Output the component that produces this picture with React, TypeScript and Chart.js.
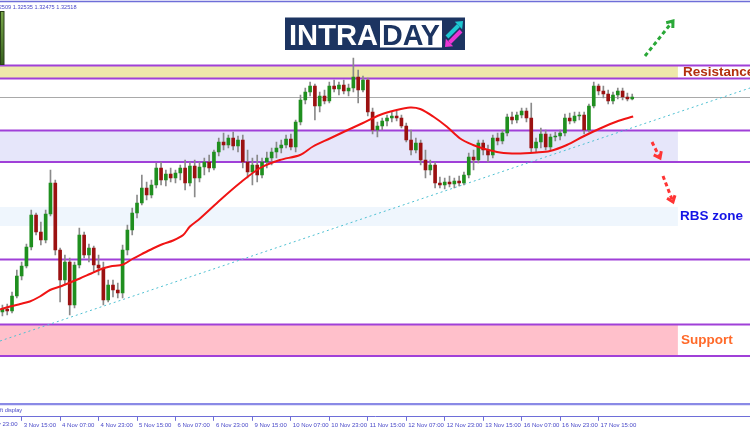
import React, { useEffect, useRef } from "react";
import { Chart, registerables } from "chart.js";

Chart.register(...registerables);

// ---- Candle data (2-hour candles, GBPUSD) ----
const OPEN = [
  1.2822, 1.2828, 1.2824, 1.2854, 1.2894, 1.2914, 1.2952, 1.3016, 1.2982, 1.2966,
  1.3018, 1.3080, 1.2946, 1.2886, 1.2922, 1.2836, 1.2916, 1.2976, 1.2936, 1.2950,
  1.2916, 1.2910, 1.2846, 1.2876, 1.2866, 1.2860, 1.2946, 1.2986, 1.3020, 1.3040,
  1.3070, 1.3056, 1.3076, 1.3110, 1.3086, 1.3098, 1.3090, 1.3100, 1.3110, 1.3080,
  1.3114, 1.3090, 1.3112, 1.3122, 1.3110, 1.3142, 1.3162, 1.3156, 1.3170, 1.3154,
  1.3166, 1.3122, 1.3102, 1.3116, 1.3096, 1.3122, 1.3130, 1.3142, 1.3150, 1.3156,
  1.3168, 1.3152, 1.3202, 1.3246, 1.3262, 1.3274, 1.3234, 1.3254, 1.3244, 1.3274,
  1.3268, 1.3276, 1.3264, 1.3270, 1.3292, 1.3266, 1.3286, 1.3222, 1.3186, 1.3194,
  1.3204, 1.3210, 1.3214, 1.3210, 1.3194, 1.3166, 1.3146, 1.3160, 1.3126, 1.3106,
  1.3116, 1.3080, 1.3076, 1.3082, 1.3078, 1.3084, 1.3080, 1.3096, 1.3132, 1.3126,
  1.3160, 1.3146, 1.3136, 1.3170, 1.3164, 1.3180, 1.3212, 1.3206, 1.3216, 1.3224,
  1.3210, 1.3150, 1.3162, 1.3178, 1.3152, 1.3172, 1.3174, 1.3180, 1.3210, 1.3204,
  1.3214, 1.3216, 1.3186, 1.3234, 1.3274, 1.3264, 1.3258, 1.3244, 1.3256, 1.3264,
  1.3252, 1.3248,
];
const HIGH = [
  1.2836, 1.2838, 1.2862, 1.2906, 1.2922, 1.2958, 1.3026, 1.3020, 1.3002, 1.3026,
  1.3106, 1.3086, 1.2950, 1.2936, 1.2930, 1.2922, 1.2990, 1.2982, 1.2958, 1.2954,
  1.2936, 1.2922, 1.2886, 1.2886, 1.2880, 1.2956, 1.2996, 1.3030, 1.3056, 1.3096,
  1.3082, 1.3086, 1.3120, 1.3122, 1.3106, 1.3110, 1.3106, 1.3116, 1.3126, 1.3122,
  1.3126, 1.3122, 1.3130, 1.3136, 1.3146, 1.3170, 1.3180, 1.3176, 1.3182, 1.3174,
  1.3176, 1.3146, 1.3130, 1.3136, 1.3130, 1.3142, 1.3150, 1.3162, 1.3166, 1.3176,
  1.3178, 1.3206, 1.3256, 1.3270, 1.3282, 1.3278, 1.3262, 1.3266, 1.3282, 1.3286,
  1.3282, 1.3286, 1.3278, 1.3330, 1.3306, 1.3294, 1.3290, 1.3230, 1.3202, 1.3210,
  1.3216, 1.3222, 1.3224, 1.3216, 1.3200, 1.3186, 1.3170, 1.3166, 1.3146, 1.3126,
  1.3122, 1.3092, 1.3090, 1.3094, 1.3090, 1.3094, 1.3102, 1.3140, 1.3146, 1.3166,
  1.3166, 1.3156, 1.3176, 1.3180, 1.3186, 1.3218, 1.3222, 1.3222, 1.3230, 1.3230,
  1.3240, 1.3170, 1.3190, 1.3186, 1.3178, 1.3182, 1.3186, 1.3218, 1.3220, 1.3222,
  1.3222, 1.3222, 1.3238, 1.3282, 1.3278, 1.3274, 1.3266, 1.3262, 1.3270, 1.3270,
  1.3260, 1.3258,
];
const LOW = [
  1.2814, 1.2816, 1.2820, 1.2850, 1.2886, 1.2910, 1.2946, 1.2976, 1.2956, 1.2960,
  1.3014, 1.2936, 1.2842, 1.2876, 1.2816, 1.2830, 1.2910, 1.2930, 1.2922, 1.2902,
  1.2896, 1.2836, 1.2842, 1.2852, 1.2850, 1.2850, 1.2936, 1.2976, 1.3010, 1.3036,
  1.3046, 1.3050, 1.3070, 1.3076, 1.3074, 1.3082, 1.3080, 1.3086, 1.3066, 1.3074,
  1.3052, 1.3082, 1.3096, 1.3102, 1.3106, 1.3134, 1.3146, 1.3150, 1.3146, 1.3142,
  1.3110, 1.3090, 1.3076, 1.3082, 1.3090, 1.3110, 1.3116, 1.3130, 1.3140, 1.3150,
  1.3146, 1.3142, 1.3196, 1.3238, 1.3254, 1.3206, 1.3222, 1.3238, 1.3240, 1.3262,
  1.3256, 1.3258, 1.3254, 1.3262, 1.3240, 1.3262, 1.3214, 1.3178, 1.3172, 1.3186,
  1.3194, 1.3202, 1.3204, 1.3190, 1.3162, 1.3136, 1.3140, 1.3116, 1.3090, 1.3096,
  1.3070, 1.3070, 1.3068, 1.3072, 1.3070, 1.3074, 1.3076, 1.3090, 1.3106, 1.3120,
  1.3136, 1.3122, 1.3130, 1.3156, 1.3158, 1.3174, 1.3198, 1.3200, 1.3210, 1.3202,
  1.3142, 1.3142, 1.3150, 1.3146, 1.3146, 1.3164, 1.3166, 1.3174, 1.3198, 1.3200,
  1.3206, 1.3178, 1.3182, 1.3230, 1.3256, 1.3250, 1.3238, 1.3238, 1.3248, 1.3246,
  1.3244, 1.3246,
];
const CLOSE = [
  1.2828, 1.2824, 1.2854, 1.2894, 1.2914, 1.2952, 1.3016, 1.2982, 1.2966, 1.3018,
  1.3080, 1.2946, 1.2886, 1.2922, 1.2836, 1.2916, 1.2976, 1.2936, 1.2950, 1.2916,
  1.2910, 1.2846, 1.2876, 1.2866, 1.2860, 1.2946, 1.2986, 1.3020, 1.3040, 1.3070,
  1.3056, 1.3076, 1.3110, 1.3086, 1.3098, 1.3090, 1.3100, 1.3110, 1.3080, 1.3114,
  1.3090, 1.3112, 1.3122, 1.3110, 1.3142, 1.3162, 1.3156, 1.3170, 1.3154, 1.3166,
  1.3122, 1.3102, 1.3116, 1.3096, 1.3122, 1.3130, 1.3142, 1.3150, 1.3156, 1.3168,
  1.3152, 1.3202, 1.3246, 1.3262, 1.3274, 1.3234, 1.3254, 1.3244, 1.3274, 1.3268,
  1.3276, 1.3264, 1.3270, 1.3292, 1.3266, 1.3286, 1.3222, 1.3186, 1.3194, 1.3204,
  1.3210, 1.3214, 1.3210, 1.3194, 1.3166, 1.3146, 1.3160, 1.3126, 1.3106, 1.3116,
  1.3080, 1.3076, 1.3082, 1.3078, 1.3084, 1.3080, 1.3096, 1.3132, 1.3126, 1.3160,
  1.3146, 1.3136, 1.3170, 1.3164, 1.3180, 1.3212, 1.3206, 1.3216, 1.3224, 1.3210,
  1.3150, 1.3162, 1.3178, 1.3152, 1.3172, 1.3174, 1.3180, 1.3210, 1.3204, 1.3214,
  1.3216, 1.3186, 1.3234, 1.3274, 1.3264, 1.3258, 1.3244, 1.3256, 1.3264, 1.3252,
  1.3248, 1.3252,
];

// ---- Moving average ----
const MA_X = [
  -0.5, 1.6, 3.7, 5.7, 7.8, 9.9, 12.0, 14.1, 16.1, 18.2, 20.3, 22.4, 25.1, 27.2, 29.2, 31.3,
  33.4, 35.5, 37.6, 39.0, 41.1, 45.3, 49.4, 53.6, 57.7, 61.9, 64.6, 68.1, 71.6, 75.0, 78.5,
  82.0, 84.8, 86.9, 89.6, 92.4, 95.2, 97.9, 100.0, 103.5, 107.0, 111.1, 113.9, 117.4, 120.8,
  124.3, 127.8, 131.2,
];
const MA_Y = [
  1.2827, 1.2833, 1.2838, 1.2843, 1.2853, 1.2866, 1.2873, 1.2881, 1.2889, 1.2898, 1.2907,
  1.2913, 1.2917, 1.2929, 1.2939, 1.2949, 1.2958, 1.2965, 1.2976, 1.2993, 1.3009, 1.3046,
  1.3080, 1.3110, 1.3126, 1.3136, 1.3153, 1.3169, 1.3185, 1.3200, 1.3216, 1.3226, 1.3231,
  1.3228, 1.3213, 1.3193, 1.3169, 1.3156, 1.3149, 1.3141, 1.3139, 1.3141, 1.3144, 1.3156,
  1.3173, 1.3189, 1.3203, 1.3213,
];

// ---- Trend line ----
const TREND_X = [-0.5, 155.5];
const TREND_Y = [1.2764, 1.327];

// ---- Time axis ----
const TICK_INDEX = [4, 12, 20, 28, 36, 44, 52, 60, 68, 76, 84, 92, 100, 108, 116, 124];
const TICK_LABELS = [
  "3 Nov 15:00", "4 Nov 07:00", "4 Nov 23:00", "5 Nov 15:00", "6 Nov 07:00", "6 Nov 23:00",
  "9 Nov 15:00", "10 Nov 07:00", "10 Nov 23:00", "11 Nov 15:00", "12 Nov 07:00", "12 Nov 23:00",
  "13 Nov 15:00", "16 Nov 07:00", "16 Nov 23:00", "17 Nov 15:00",
];
const PRE_TICK_INDEX = -4;
const PRE_TICK_LABEL = "2 Nov 23:00";
const X_MIN = -0.5;
const X_MAX = 155.5;
const ZONE_END_INDEX = 140.5;

// ---- Price levels ----
const ZONE_LO = [1.3289, 1.3122, 1.2994, 1.2734];
const ZONE_HI = [1.3315, 1.3185, 1.3032, 1.2797];
const ZONE_FILL = ["#eee8aa", "#e6e6fa", "#eff6fd", "#ffc0cb"];
const ZONE_LINES = [true, true, false, true];
const SINGLE_LEVELS = [1.2927];
const ZONE_TEXT = ["Resistance", "RBS zone", "Support"];
const ZONE_TEXT_PRICE = [1.3302, 1.3013, 1.2766];
const ZONE_TEXT_COLOR = ["#b3300f", "#1414e6", "#ff6a2a"];
const OHLC_TEXT = "GBPUSD,H1  1.32509 1.32535 1.32475 1.32518";

const Y_MAX = 1.3446;
const Y_MIN = 1.26124;

const GREEN = "#1f8f1f";
const RED = "#9b1111";
const PURPLE = "#a040d8";
const FRAME = "#6e6ed8";

function dashedArrow(ctx: CanvasRenderingContext2D, x1: number, y1: number, x2: number, y2: number, color: string) {
  ctx.save();
  ctx.strokeStyle = color;
  ctx.lineWidth = 3;
  ctx.setLineDash([4, 3]);
  ctx.beginPath();
  ctx.moveTo(x1, y1);
  ctx.lineTo(x2, y2);
  ctx.stroke();
  ctx.setLineDash([]);
  const a = Math.atan2(y2 - y1, x2 - x1);
  const L = 7;
  ctx.beginPath();
  ctx.moveTo(x2 - L * Math.cos(a - 0.65), y2 - L * Math.sin(a - 0.65));
  ctx.lineTo(x2, y2);
  ctx.lineTo(x2 - L * Math.cos(a + 0.65), y2 - L * Math.sin(a + 0.65));
  ctx.stroke();
  ctx.restore();
}

function solidArrow(ctx: CanvasRenderingContext2D, x1: number, y1: number, x2: number, y2: number, color: string, w: number) {
  const a = Math.atan2(y2 - y1, x2 - x1);
  const hl = w * 1.6;
  const bx = x2 - hl * Math.cos(a);
  const by = y2 - hl * Math.sin(a);
  ctx.save();
  ctx.strokeStyle = color;
  ctx.fillStyle = color;
  ctx.lineWidth = w;
  ctx.beginPath();
  ctx.moveTo(x1, y1);
  ctx.lineTo(bx, by);
  ctx.stroke();
  const hw = w * 1.3;
  ctx.beginPath();
  ctx.moveTo(x2, y2);
  ctx.lineTo(bx + hw * Math.sin(a), by - hw * Math.cos(a));
  ctx.lineTo(bx - hw * Math.sin(a), by + hw * Math.cos(a));
  ctx.closePath();
  ctx.fill();
  ctx.restore();
}

const decorPlugin = {
  id: "decor",
  beforeDatasetsDraw(chart: any) {
    const { ctx, chartArea } = chart;
    const x = chart.scales.x;
    const y = chart.scales.y;
    const left = chartArea.left;
    const right = chartArea.right;
    const fillEnd = x.getPixelForValue(ZONE_END_INDEX);
    ctx.save();
    for (let i = 0; i < ZONE_LO.length; i++) {
      const top = y.getPixelForValue(ZONE_HI[i]);
      const bot = y.getPixelForValue(ZONE_LO[i]);
      ctx.fillStyle = ZONE_FILL[i];
      ctx.fillRect(left, top, fillEnd - left, bot - top);
    }
    const bid = y.getPixelForValue(CLOSE[CLOSE.length - 1]);
    ctx.strokeStyle = "#a9a9a9";
    ctx.lineWidth = 1;
    ctx.beginPath();
    ctx.moveTo(left, Math.round(bid) + 0.5);
    ctx.lineTo(right, Math.round(bid) + 0.5);
    ctx.stroke();
    ctx.strokeStyle = PURPLE;
    ctx.lineWidth = 2;
    const lv: number[] = [];
    for (let i = 0; i < ZONE_LO.length; i++) {
      if (ZONE_LINES[i]) {
        lv.push(ZONE_LO[i], ZONE_HI[i]);
      }
    }
    SINGLE_LEVELS.forEach((v) => lv.push(v));
    lv.forEach((v) => {
      const py = y.getPixelForValue(v);
      ctx.beginPath();
      ctx.moveTo(left, py);
      ctx.lineTo(right, py);
      ctx.stroke();
    });
    ctx.restore();
  },
  afterDatasetsDraw(chart: any) {
    const { ctx } = chart;
    const x = chart.scales.x;
    const y = chart.scales.y;
    ctx.save();
    ctx.textBaseline = "middle";
    ctx.textAlign = "left";
    ctx.font = 'bold 13.5px "Liberation Sans", Arial, sans-serif';
    const textX = [683, 680, 681];
    for (let i = 0; i < ZONE_TEXT.length; i++) {
      ctx.fillStyle = ZONE_TEXT_COLOR[i];
      ctx.fillText(ZONE_TEXT[i], textX[i], y.getPixelForValue(ZONE_TEXT_PRICE[i]));
    }
    dashedArrow(ctx, 645, 56, 673, 21, "#2aa838");
    dashedArrow(ctx, 652, 142, 660, 158, "#ff3434");
    dashedArrow(ctx, 663, 176, 673, 202, "#ff3434");

    ctx.fillStyle = "#1c3461";
    ctx.fillRect(285, 17.5, 180, 32.5);
    ctx.fillStyle = "#ffffff";
    ctx.fillRect(380, 20.5, 62, 27);
    ctx.font = 'bold 30px "Liberation Sans", Arial, sans-serif';
    ctx.textBaseline = "alphabetic";
    ctx.textAlign = "left";
    ctx.fillStyle = "#ffffff";
    ctx.fillText("INTRA", 289, 45, 89);
    ctx.fillStyle = "#1c3461";
    ctx.fillText("DAY", 382, 45, 58);
    solidArrow(ctx, 447, 37, 463, 21, "#1ec8d2", 4);
    solidArrow(ctx, 461, 31, 445, 47, "#ea36d4", 4);

    const g = ctx.createLinearGradient(0, 11, 0, 65);
    g.addColorStop(0, "#7aa84a");
    g.addColorStop(1, "#36601e");
    ctx.fillStyle = g;
    ctx.fillRect(0, 11, 4, 54);
    ctx.strokeStyle = "#2a4018";
    ctx.lineWidth = 1;
    ctx.strokeRect(0.5, 11.5, 3.5, 53);

    ctx.strokeStyle = FRAME;
    ctx.lineWidth = 1.5;
    ctx.beginPath();
    ctx.moveTo(0, 1.5);
    ctx.lineTo(750, 1.5);
    ctx.stroke();
    ctx.font = '5.6px "Liberation Sans", Arial, sans-serif';
    ctx.fillStyle = "#4848c8";
    ctx.textAlign = "right";
    ctx.textBaseline = "middle";
    ctx.fillText(OHLC_TEXT, 76.5, 7);

    ctx.strokeStyle = "#8a8ae6";
    ctx.lineWidth = 2.2;
    ctx.beginPath();
    ctx.moveTo(0, 404.2);
    ctx.lineTo(750, 404.2);
    ctx.stroke();
    ctx.textAlign = "left";
    ctx.fillText("ft display", 0, 410.8);

    ctx.font = '6px "Liberation Sans", Arial, sans-serif';
    ctx.textBaseline = "top";
    ctx.fillStyle = "#4848c8";
    ctx.fillText(PRE_TICK_LABEL, x.getPixelForValue(PRE_TICK_INDEX) + 2, x.top + 5);
    ctx.restore();
  },
};

export default function App() {
  const ref = useRef<HTMLCanvasElement | null>(null);
  useEffect(() => {
    if (!ref.current) return;
    const idx = OPEN.map((_, i) => i);
    const chart = new Chart(ref.current, {
      type: "bar",
      data: {
        datasets: [
          {
            type: "line",
            data: MA_X.map((v, i) => ({ x: v, y: MA_Y[i] })),
            borderColor: "#f01414",
            borderWidth: 2,
            pointRadius: 0,
            tension: 0.3,
            fill: false,
            order: 1,
          } as any,
          {
            type: "bar",
            data: idx.map((i) => ({ x: i, y: [OPEN[i], CLOSE[i]] })),
            backgroundColor: idx.map((i) => (CLOSE[i] >= OPEN[i] ? GREEN : RED)),
            borderWidth: 0,
            grouped: false,
            barThickness: 3,
            maxBarThickness: 3,
            minBarLength: 1,
            order: 2,
          } as any,
          {
            type: "bar",
            data: idx.map((i) => ({ x: i, y: [LOW[i], HIGH[i]] })),
            backgroundColor: "#8a8a8a",
            borderWidth: 0,
            grouped: false,
            barThickness: 1,
            maxBarThickness: 1,
            order: 3,
          } as any,
          {
            type: "line",
            data: TREND_X.map((v, i) => ({ x: v, y: TREND_Y[i] })),
            borderColor: "#4fc0d2",
            borderWidth: 1,
            borderDash: [2, 3],
            pointRadius: 0,
            fill: false,
            order: 4,
          } as any,
        ],
      },
      options: {
        responsive: false,
        devicePixelRatio: 1,
        animation: false,
        events: [],
        layout: { padding: 0 },
        plugins: { legend: { display: false }, tooltip: { enabled: false }, title: { display: false } },
        scales: {
          x: {
            type: "linear",
            min: X_MIN,
            max: X_MAX,
            offset: false,
            afterBuildTicks: (s: any) => {
              s.ticks = TICK_INDEX.map((v) => ({ value: v }));
            },
            ticks: {
              autoSkip: false,
              maxRotation: 0,
              minRotation: 0,
              align: "start",
              labelOffset: 2,
              padding: 1,
              color: "#4848c8",
              font: { family: '"Liberation Sans", Arial, sans-serif', size: 6 },
              callback: (_v: any, i: number) => TICK_LABELS[i] ?? "",
            },
            grid: { display: true, drawOnChartArea: false, drawTicks: true, tickLength: 4, color: FRAME, offset: false },
            border: { display: true, color: FRAME, width: 1 },
          },
          y: {
            type: "linear",
            display: false,
            min: Y_MIN,
            max: Y_MAX,
            beginAtZero: false,
          },
        },
      } as any,
      plugins: [decorPlugin],
    });
    return () => chart.destroy();
  }, []);
  return (
    <div style={{ position: "fixed", left: 0, top: 0, width: 750, height: 430, background: "#ffffff" }}>
      <canvas ref={ref} width={750} height={430} style={{ display: "block" }} />
    </div>
  );
}
